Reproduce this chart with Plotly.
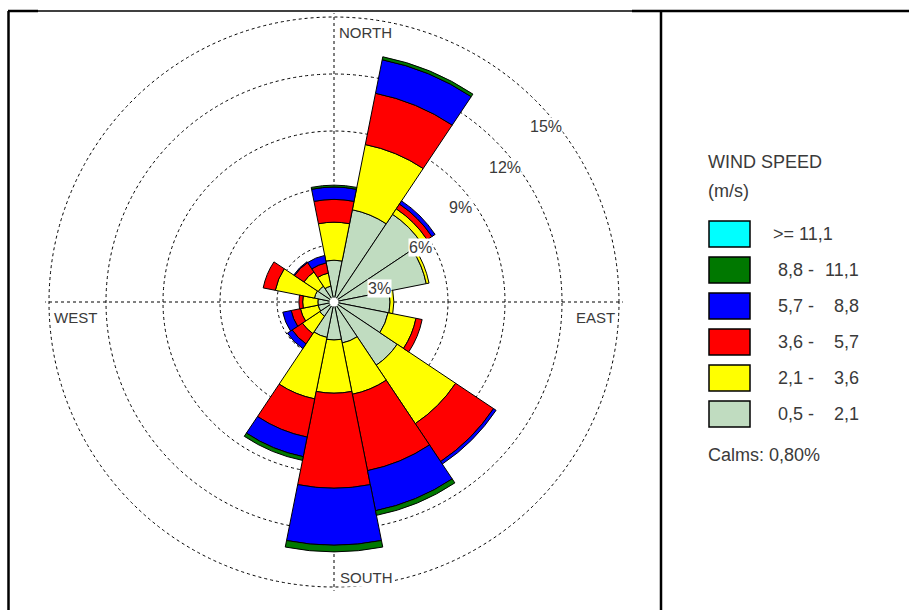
import plotly.graph_objects as go
import math

# ---- data -------------------------------------------------------------
directions = ["N", "NNE", "NE", "ENE", "E", "ESE", "SE", "SSE",
              "S", "SSW", "SW", "WSW", "W", "WNW", "NW", "NNW"]
angles = [0, 22.5, 45, 67.5, 90, 112.5, 135, 157.5,
          180, 202.5, 225, 247.5, 270, 292.5, 315, 337.5]

# frequency (%) of each speed class per direction
f_05_21 = [2.20, 4.95, 5.55, 4.95, 2.95, 2.90, 4.00, 2.20,
           2.00, 1.90, 0.90, 0.85, 0.85, 1.05, 1.00, 0.85]
f_21_36 = [2.00, 3.50, 0.35, 0.15, 0.20, 1.50, 3.70, 2.75,
           2.80, 3.30, 1.10, 0.95, 0.80, 2.10, 0.90, 0.70]
f_36_57 = [1.20, 2.75, 0.30, 0.00, 0.00, 0.33, 2.40, 4.10,
           5.00, 2.05, 0.65, 0.50, 0.20, 0.65, 0.60, 0.55]
f_57_88 = [0.65, 1.80, 0.20, 0.00, 0.00, 0.00, 0.16, 2.15,
           3.00, 1.05, 0.30, 0.45, 0.00, 0.00, 0.05, 0.40]
f_88_111 = [0.10, 0.16, 0.00, 0.00, 0.00, 0.00, 0.00, 0.25,
            0.35, 0.20, 0.00, 0.00, 0.00, 0.00, 0.00, 0.00]
f_111 = [0.00, 0.00, 0.00, 0.00, 0.00, 0.00, 0.00, 0.00,
         0.00, 0.00, 0.00, 0.00, 0.00, 0.00, 0.00, 0.00]

speed_labels = [">= 11,1", "8,8 - 11,1", "5,7 - 8,8", "3,6 - 5,7", "2,1 - 3,6", "0,5 - 2,1"]
speed_colors = ["#00FFFF", "#007800", "#0000FF", "#FF0000", "#FFFF00", "#C0DCC0"]
calms_text = "Calms: 0,80%"

ring_values = [3, 6, 9, 12, 15]
compass = ["NORTH", "EAST", "SOUTH", "WEST"]

# ---- geometry (pixels) ------------------------------------------------
W, H = 909, 610
cx, cy = 334, 302          # rose centre
R15 = 285                  # radius of the 15 % ring
rmax = 15.2                # radial range upper bound
Rdom = R15 * rmax / 15


def px(x):
    return x / W


def py(y):
    return 1 - y / H


TXT = "#3a3a3a"
FONT = "Liberation Sans, Arial, sans-serif"
DASH = "3px,3px"

fig = go.Figure()

series = [f_05_21, f_21_36, f_36_57, f_57_88, f_88_111, f_111]
colors_inner_out = speed_colors[::-1]
labels_inner_out = speed_labels[::-1]
for vals, col, lab in zip(series, colors_inner_out, labels_inner_out):
    fig.add_trace(go.Barpolar(
        r=vals, theta=angles, width=22.5, name=lab,
        marker=dict(color=col, line=dict(color="black", width=1)),
        showlegend=False, hoverinfo="skip",
    ))

# white calm circle at the centre
fig.add_trace(go.Scatterpolar(
    r=[0], theta=[0], mode="markers",
    marker=dict(size=9, color="white", line=dict(width=0)),
    showlegend=False, hoverinfo="skip",
))

fig.update_layout(
    width=W, height=H, autosize=False,
    margin=dict(l=0, r=0, t=0, b=0),
    paper_bgcolor="white",
    polar=dict(
        domain=dict(x=[px(cx - Rdom), px(cx + Rdom)],
                    y=[py(cy + Rdom), py(cy - Rdom)]),
        bgcolor="white",
        barmode="stack",
        radialaxis=dict(range=[0, rmax], tickvals=ring_values,
                        showticklabels=False, ticks="", showline=False,
                        gridcolor="black", gridwidth=1, griddash=DASH,
                        layer="below traces"),
        angularaxis=dict(rotation=90, direction="clockwise",
                         tickvals=[0, 90, 180, 270], showticklabels=False,
                         ticks="", showline=False,
                         gridcolor="black", gridwidth=1, griddash=DASH,
                         layer="below traces"),
    ),
)

ann = []
# ring labels
s = R15 / 15
for v in ring_values:
    r = v * s
    x45 = cx + r * math.sqrt(0.5)
    y45 = cy - r * math.sqrt(0.5)
    ann.append(dict(x=px(x45 - 7), y=py(y45 + 17), xref="paper", yref="paper",
                    xanchor="left", yanchor="top", text=f"{v}%", showarrow=False,
                    bgcolor="white", borderpad=0,
                    font=dict(family=FONT, size=16, color=TXT)))

# compass labels
ann.append(dict(x=px(cx + 4), y=py(cy - R15 + 15), text=compass[0]))
ann.append(dict(x=px(cx + 5), y=py(cy + R15 - 10), text=compass[2]))
ann.append(dict(x=px(cx + R15 - 3), y=py(cy + 15), text=compass[1], xanchor="right"))
ann.append(dict(x=px(cx - R15 + 4), y=py(cy + 15), text=compass[3]))
for a in ann[-4:]:
    a.setdefault("xanchor", "left")
    a.update(xref="paper", yref="paper", yanchor="middle", showarrow=False,
             bgcolor="white", borderpad=0,
             font=dict(family=FONT, size=15, color=TXT))

# legend
LF = dict(family=FONT, size=18, color=TXT)
ann.append(dict(x=px(706), y=py(162), text="WIND SPEED"))
ann.append(dict(x=px(706), y=py(191), text="(m/s)"))
shapes = []
box_x0, box_x1 = 709, 750
top0, step, bh = 221, 36, 26
for i, (lab, col) in enumerate(zip(speed_labels, speed_colors)):
    y0 = top0 + i * step
    yc = y0 + bh / 2
    shapes.append(dict(type="rect", xref="paper", yref="paper",
                       x0=px(box_x0), x1=px(box_x1), y0=py(y0), y1=py(y0 + bh),
                       fillcolor=col, line=dict(color="black", width=1.5)))
    if " - " in lab:
        lo, hi = lab.split(" - ")
        ann.append(dict(x=px(776), y=py(yc), text=lo + " -"))
        ann.append(dict(x=px(861), y=py(yc), text=hi, xanchor="right"))
    else:
        ann.append(dict(x=px(771), y=py(yc), text=lab))
ann.append(dict(x=px(706), y=py(455), text=calms_text))
for a in ann:
    if "font" not in a:
        a.setdefault("xanchor", "left")
        a.update(xref="paper", yref="paper", yanchor="middle", showarrow=False,
                 font=LF)

# frame lines
frame = [
    (8.5, 11, 8.5, H, 2.5),
    (8, 11, 38, 11, 2.5),
    (38, 11, 632, 11, 1.5),
    (632, 11, W, 11, 2.5),
    (661, 11, 661, H, 2.5),
]
for x0, y0, x1, y1, w in frame:
    shapes.append(dict(type="line", xref="paper", yref="paper",
                       x0=px(x0), y0=py(y0), x1=px(x1), y1=py(y1),
                       line=dict(color="black", width=w)))

fig.update_layout(annotations=ann, shapes=shapes)
fig.write_html("out.html")
